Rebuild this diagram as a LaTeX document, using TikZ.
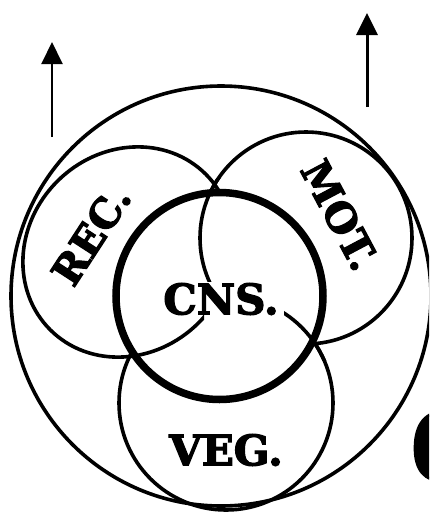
\documentclass[tikz,border=0pt]{standalone}
\usepackage{fontspec}
\usetikzlibrary{arrows.meta}
\newfontfamily\heavyfont{DejaVu Serif}[UprightFont={* Bold},FakeBold=3]
\tikzset{
  ring/.style={line width=3.6pt},
  cnsring/.style={line width=7.5pt},
  lbl/.style={font=\heavyfont\fontsize{40}{40}\selectfont, inner sep=0pt},
  uparrow/.style={-{Triangle[length=22pt,width=21pt]}}
}
\begin{document}
\begin{tikzpicture}[x=1pt,y=-1pt]
\useasboundingbox (0,0) rectangle (429,512);
\clip (0,0) rectangle (429,512);
\coordinate (outer) at (221,296); \coordinate (cns) at (219.5,296);
\coordinate (rec) at (128,252); \coordinate (mot) at (306,238); \coordinate (veg) at (226,403);

\draw[ring] (outer) circle (210);
\draw[ring, rotate around={45:(rec)}] (rec) ellipse [x radius=110, y radius=100];
\draw[ring] (mot) circle (106);
\draw[ring] (veg) circle (107);
\fill[white] (cns) circle (103.5);
\begin{scope} \clip (192,178) rectangle (226,281); \draw[ring] (mot) circle (106); \end{scope}
\begin{scope} \clip (138,300) rectangle (204,365); \draw[ring, rotate around={45:(rec)}] (rec) ellipse [x radius=110, y radius=100]; \end{scope}
\begin{scope} \clip (284,308) rectangle (335,360); \draw[ring] (veg) circle (107); \end{scope}
\draw[cnsring] (cns) circle (103.5);

\node[lbl, font=\heavyfont\fontsize{42}{42}\selectfont] (cnslbl) at (221,299) {CNS.};
\node[lbl, rotate=57] (reclbl) at (91,235) {REC.};
\node[lbl, rotate=-62] (motlbl) at (340,215) {MOT.};
\node[lbl, font=\heavyfont\fontsize{42}{42}\selectfont] (veglbl) at (226,450) {VEG.};
\node[lbl, font=\heavyfont\fontsize{93}{93}\selectfont, anchor=base west] (figno) at (409,480) {6};

\coordinate (recbase) at (52,137); \coordinate (rectip) at (52,42);
\draw[uparrow, line width=2pt] (recbase) -- (rectip);
\coordinate (motbase) at (367,107); \coordinate (mottip) at (367,13);
\draw[uparrow, line width=3pt] (motbase) -- (mottip);
\end{tikzpicture}
\end{document}
